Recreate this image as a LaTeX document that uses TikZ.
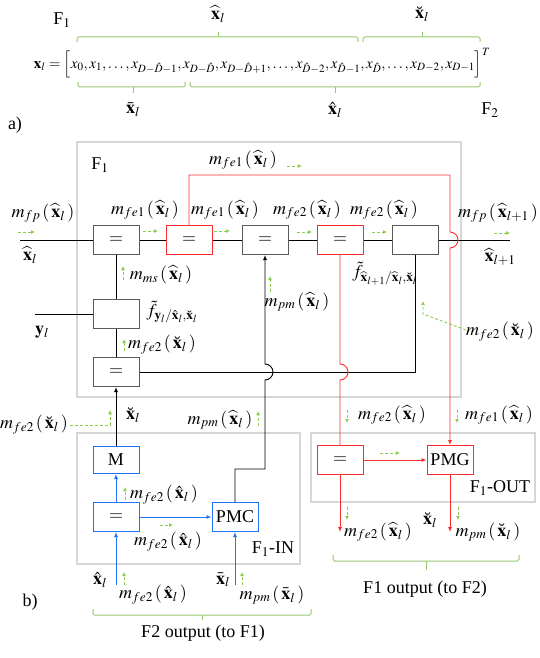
\documentclass[tikz,border=0pt]{standalone}
\usepackage{amsmath}
\usepackage{mathptmx}
\usepackage[no-math]{fontspec}
\setmainfont{Liberation Serif}
\usetikzlibrary{arrows.meta}
\definecolor{framegray}{RGB}{214,214,214}
\definecolor{boxgray}{RGB}{90,90,90}
\definecolor{fred}{RGB}{250,45,45}
\definecolor{fblue}{RGB}{35,115,250}
\definecolor{fgreen}{RGB}{140,205,80}
\definecolor{bgreen}{RGB}{150,200,110}
\newcommand\xWh{\widehat{\mathbf{x}}_l}
\newcommand\xHt{\hat{\mathbf{x}}_l}
\newcommand\xBr{\breve{\mathbf{x}}_l}
\newcommand\xBa{\bar{\mathbf{x}}_l}
\newcommand\mlab[2]{$m_{#1}\left(\,#2\,\right)$}
\tikzset{
	blk/.style={draw=boxgray, line width=1pt, minimum width=46pt, minimum height=29pt, inner sep=0pt},
	rblk/.style={blk, draw=fred},
	bblk/.style={blk, draw=fblue},
	frame/.style={draw=framegray, line width=2.2pt},
	wire/.style={line width=0.9pt},
	rwire/.style={wire, draw=fred},
	bwire/.style={wire, draw=fblue},
	tip/.style={-{Latex[length=5pt,width=4pt]}},
	msg/.style={draw=fgreen, densely dashed, line width=0.9pt, -{Latex[length=4pt,width=4pt]}},
	brc/.style={draw=bgreen, line width=1pt, rounded corners=1.5pt}
}

\begin{document}
\begin{tikzpicture}[x=1pt, y=-1pt, font=\fontsize{18}{21}\selectfont, inner sep=0.5pt]
	\useasboundingbox (0,0) rectangle (539,658);

	\node (tF1) at (62,20) {F$_1$};
	\node (tWh) at (218,14) {$\xWh$};
	\node (tBr) at (422,14) {$\xBr$};
	\node[font=\fontsize{15}{18}\selectfont] (eq) at (262,63) {$\mathbf{x}_l=\Big[x_0,x_1,\ldots,x_{D-\hat{D}-1},x_{D-\hat{D}},x_{D-\hat{D}+1},\ldots,x_{\hat{D}-2},x_{\hat{D}-1},x_{\hat{D}},\ldots,x_{D-2},x_{D-1}\Big]^T$};
	\node (tBa) at (133,110) {$\xBa$};
	\node (tHt) at (335,110) {$\xHt$};
	\node (tF2) at (490,110) {F$_2$};
	\node (ta) at (15,125) {a)};
	\draw[brc] (77,42) -- (77,37) -- (358,37) -- (358,42);
	\draw[brc] (218,37) -- (218,32);
	\draw[brc] (363,42) -- (363,37) -- (480,37) -- (480,42);
	\draw[brc] (422,37) -- (422,32);
	\draw[brc] (78,82) -- (78,87) -- (185,87) -- (185,82);
	\draw[brc] (133,87) -- (133,93);
	\draw[brc] (190,82) -- (190,87) -- (480,87) -- (480,82);
	\draw[brc] (335,87) -- (335,93);

	\draw[frame] (77,142) rectangle (461,397);
	\draw[frame] (77,433) rectangle (300,564);
	\draw[frame] (311,433) rectangle (535,502);

	\node[blk] (b1) at (116,240) {$=$};
	\node[rblk] (b2) at (189,240) {$=$};
	\node[blk] (b3) at (265,240) {$=$};
	\node[rblk] (b4) at (340,240) {$=$};
	\node[blk] (b5) at (415,240) {};
	\node[blk] (fy) at (116,314) {};
	\node[blk] (e1) at (116,372) {$=$};
	\node[bblk, minimum height=27pt] (mm) at (116,460) {M};
	\node[bblk] (e2) at (116,517) {$=$};
	\node[bblk] (pmc) at (235,517) {PMC};
	\node[rblk] (e3) at (340,460) {$=$};
	\node[rblk] (pmg) at (450,460) {PMG};

	\coordinate (xin) at (20,240);
	\coordinate (xout) at (510,240);
	\coordinate (yin) at (35,314);
	\coordinate (xhin) at (116,585);
	\coordinate (xbin) at (235,585);
	\coordinate (eout) at (340,532);
	\coordinate (gout) at (450,532);

	\draw[wire] (xin) -- (b1) -- (b2) -- (b3) -- (b4) -- (b5) -- (xout);
	\draw[wire] (b1) -- (fy) -- (e1);
	\draw[wire] (yin) -- (fy);
	\draw[wire] (e1) -| (b5);
	\draw[wire, tip] (mm) -- (e1);
	\draw[wire, tip] (pmc.north) |- (265,469) -- (265,380) arc(90:-90:8) -- (b3.south);
	\draw[rwire, tip] (b2.north) |- (450,175) -- (450,232) arc(-90:90:8) -- (pmg.north);
	\draw[rwire] (b4.south) -- (340,364) arc(-90:90:8) -- (e3.north);
	\draw[rwire, tip] (e3) -- (pmg);
	\draw[rwire, tip] (e3) -- (eout);
	\draw[rwire, tip] (pmg) -- (gout);
	\draw[bwire, tip] (e2) -- (mm);
	\draw[bwire, tip] (e2) -- (pmc);
	\draw[bwire, tip] (xhin) -- (e2);
	\draw[bwire, tip] (xbin) -- (pmc);

	\node (lF1) at (100,165) {F$_1$};
	\node (lred) at (243,160) {\mlab{fe1}{\xWh}};
	\node (lfp) at (43,213) {\mlab{fp}{\xWh}};
	\node (l12) at (145,210) {\mlab{fe1}{\xWh}};
	\node (l23) at (225,210) {\mlab{fe1}{\xWh}};
	\node (l34) at (307,210) {\mlab{fe2}{\xWh}};
	\node (l45) at (384,210) {\mlab{fe2}{\xWh}};
	\node (lfpo) at (498,213) {$m_{fp}\left(\,\widehat{\mathbf{x}}_{l+1}\,\right)$};
	\node (lxin) at (30,255) {$\xWh$};
	\node (lxout) at (500,257) {$\widehat{\mathbf{x}}_{l+1}$};
	\node (lms) at (161,275) {\mlab{ms}{\xWh}};
	\node (lfy) at (172,312) {$\tilde{f}_{\mathbf{y}_l/\xHt,\xBr}$};
	\node (ly) at (42,332) {$\mathbf{y}_l$};
	\node (le1) at (162,345) {\mlab{fe2}{\xBr}};
	\node (lpm) at (297,302) {\mlab{pm}{\xWh}};
	\node (lfx) at (385,274) {$\tilde{f}_{\widehat{\mathbf{x}}_{l+1}/\xWh,\xBr}$};
	\node (lbr) at (500,332) {\mlab{fe2}{\xBr}};
	\node (lbl) at (34,425) {\mlab{fe2}{\xBr}};
	\node (lxbr) at (133,415) {$\xBr$};
	\node (lpmh) at (220,420) {\mlab{pm}{\xWh}};

	\node (lIN) at (273,549) {F$_1$-IN};
	\node (lm1) at (164,495) {\mlab{fe2}{\xHt}};
	\node (lm2) at (168,542) {\mlab{fe2}{\xHt}};
	\node (lxh) at (100,580) {$\xHt$};
	\node (lm3) at (153,595) {\mlab{fe2}{\xHt}};
	\node (lxb) at (223,580) {$\xBa$};
	\node (lm4) at (272,595) {\mlab{pm}{\xBa}};
	\node (lb) at (30,602) {b)};
	\node (lF2o) at (203,633) {F2 output (to F1)};

	\node (lOUT) at (500,488) {F$_1$-OUT};
	\node (lo1) at (392,415) {\mlab{fe2}{\xWh}};
	\node (lo2) at (499,415) {\mlab{fe1}{\xWh}};
	\node (lo3) at (378,532) {\mlab{fe2}{\xWh}};
	\node (lxo) at (430,520) {$\xBr$};
	\node (lo4) at (488,532) {\mlab{pm}{\xBr}};
	\node (lF1o) at (425,589) {F1 output (to F2)};

	\draw[msg] (18,232) -- (35,232);
	\draw[msg] (143,231) -- (158,231);
	\draw[msg] (214,231) -- (230,231);
	\draw[msg] (297,232) -- (312,232);
	\draw[msg] (372,232) -- (387,232);
	\draw[msg] (494,233) -- (510,233);
	\draw[msg] (287,166) -- (302,166);
	\draw[msg] (123,280) -- (123,266);
	\draw[msg] (124,351) -- (124,339);
	\draw[msg] (270,292) -- (270,276);
	\draw[msg] (466,330) -- (423,314) -- (423,301);
	\draw[msg] (70,425) -- (110,425) -- (110,410);
	\draw[msg] (258,426) -- (258,411);
	\draw[msg] (125,500) -- (125,487);
	\draw[msg] (160,525) -- (173,525);
	\draw[msg] (124,585) -- (124,572);
	\draw[msg] (242,585) -- (242,572);
	\draw[msg] (347,410) -- (347,423);
	\draw[msg] (457,410) -- (457,423);
	\draw[msg] (380,453) -- (400,453);
	\draw[msg] (347,507) -- (347,520);
	\draw[msg] (458,507) -- (458,520);

	\draw[brc] (93,609) -- (93,615) -- (311,615) -- (311,609);
	\draw[brc] (202,615) -- (202,620);
	\draw[brc] (333,555) -- (333,561) -- (519,561) -- (519,555);
	\draw[brc] (426,561) -- (426,570);
\end{tikzpicture}
\end{document}
